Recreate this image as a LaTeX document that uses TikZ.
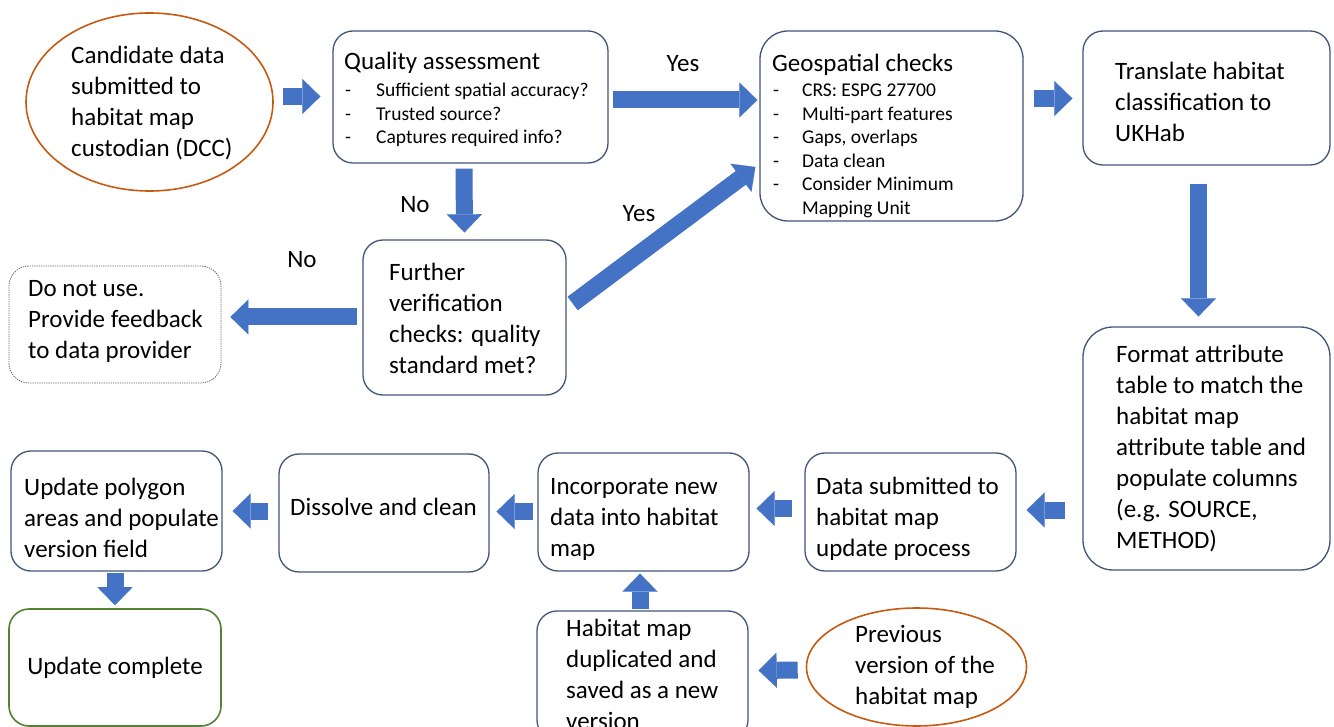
\documentclass[tikz,border=0pt]{standalone}
\usepackage{fontspec}
\setmainfont{Carlito}
\usetikzlibrary{arrows.meta,calc,shapes.geometric}
\definecolor{bord}{RGB}{65,85,120}
\definecolor{arrowblue}{RGB}{68,114,196}
\definecolor{brownc}{RGB}{197,90,17}
\definecolor{greenc}{RGB}{84,130,53}
\begin{document}
\begin{tikzpicture}[x=1pt,y=-1pt,
  box/.style={draw=bord, line width=1.3pt, rounded corners=20pt, inner sep=0pt},
  oval/.style={ellipse, draw=brownc, line width=1.6pt, inner sep=0pt},
  txt/.style={font=\fontsize{25}{31}\selectfont, align=left, inner sep=0pt, anchor=west},
  small/.style={font=\fontsize{19.5}{23.5}\selectfont, align=left, inner sep=0pt, anchor=west},
  lbl/.style={font=\fontsize{25}{31}\selectfont, inner sep=0pt},
  barrow/.style={draw=arrowblue, line width=17pt, -{Triangle[width=35pt,length=18pt,line width=0.01pt]}}
]
\useasboundingbox (0,0) rectangle (1334,727);
\fill[white] (0,0) rectangle (1334,727);

% top row
\node[oval, minimum width=247pt, minimum height=178pt] (cand) at (149.5,102) {};
\node[txt] (candt) at (71,103) {Candidate data\\submitted to\\habitat map\\custodian (DCC)};

\node[box, minimum width=275pt, minimum height=132pt] (qa) at (470.5,97) {};
\node[txt, anchor=base west] (qah) at (344,70) {Quality assessment};
\node[small] (qal) at (345,115) {\makebox[31pt][l]{-}Sufficient spatial accuracy?\\ \makebox[31pt][l]{-}Trusted source?\\ \makebox[31pt][l]{-}Captures required info?};

\node[box, rounded corners=28pt, minimum width=263pt, minimum height=190pt] (geo) at (891.5,126) {};
\node[txt, anchor=base west] (geoh) at (772,72) {Geospatial checks};
\node[small] (geol) at (773,151) {\makebox[29pt][l]{-}CRS: ESPG 27700\\ \makebox[29pt][l]{-}Multi-part features\\ \makebox[29pt][l]{-}Gaps, overlaps\\ \makebox[29pt][l]{-}Data clean\\ \makebox[29pt][l]{-}Consider Minimum\\ \makebox[29pt][l]{}Mapping Unit};

\node[box, minimum width=247pt, minimum height=134pt] (tr) at (1206.5,98) {};
\node[txt] (trt) at (1115,102) {Translate habitat\\classification to\\UKHab};

% right column
\node[box, rounded corners=30pt, minimum width=247pt, minimum height=243pt] (fmt) at (1206.5,448.5) {};
\node[txt] (fmtt) at (1116,448.5) {Format attribute\\table to match the\\habitat map\\attribute table and\\populate columns\\(e.g. SOURCE,\\METHOD)};

% middle row
\node[box, minimum width=203pt, minimum height=155pt] (fur) at (464.5,317.5) {};
\node[txt] (furt) at (389,318) {Further\\verification\\checks: quality\\standard met?};

\node[box, draw=black!60, densely dotted, line width=0.8pt, minimum width=212pt, minimum height=117pt] (dnu) at (115,324.5) {};
\node[txt] (dnut) at (28,321) {Do not use.\\Provide feedback\\to data provider};

% bottom row
\node[box, minimum width=211pt, minimum height=118pt] (sub) at (910.5,512) {};
\node[txt] (subt) at (816,519) {Data submitted to\\habitat map\\update process};

\node[box, minimum width=211pt, minimum height=118pt] (inc) at (643.5,512) {};
\node[txt] (inct) at (550,519) {Incorporate new\\data into habitat\\map};

\node[box, minimum width=210pt, minimum height=118pt] (dis) at (384,513) {};
\node[txt] (dist) at (290,507) {Dissolve and clean};

\node[box, minimum width=211pt, minimum height=120pt] (upd) at (116.5,511) {};
\node[txt] (updt) at (24,518) {Update polygon\\areas and populate\\version field};

\node[box, draw=greenc, line width=1.6pt, minimum width=212pt, minimum height=117pt, font=\fontsize{25}{31}\selectfont] (done) at (115,667.5) {Update complete};

\node[box, minimum width=211pt, minimum height=129pt] (dup) at (642.5,675.5) {};
\node[txt] (dupt) at (566,674) {Habitat map\\duplicated and\\saved as a new\\version};

\node[oval, minimum width=220pt, minimum height=118pt] (prev) at (916.5,667) {};
\node[txt] (prevt) at (855,667) {Previous\\version of the\\habitat map};

% labels
\node[lbl] (yes1) at (683,64) {Yes};
\node[lbl] (no1) at (415,205) {No};
\node[lbl] (no2) at (302,260) {No};
\node[lbl] (yes2) at (639,214) {Yes};

% block arrows
\draw[barrow] ($(cand.east)+(9,-5.5)$) -- ($(qa.west)+(-12,-0.5)$);
\draw[barrow] ($(qa.east)+(4,3)$) -- ($(geo.west)+(-2,-26)$);
\draw[barrow] ($(geo.east)+(10,-27.5)$) -- ($(tr.west)+(-10,0.5)$);
\draw[barrow] ($(tr.south)+(-8,18)$) -- ($(fmt.north)+(-8,-10)$);
\draw[barrow] ($(fmt.west)+(-17,61.5)$) -- ($(sub.east)+(10,-2)$);
\draw[barrow] ($(sub.west)+(-12,-3.5)$) -- ($(inc.east)+(7,-3.5)$);
\draw[barrow] ($(inc.west)+(-4,-0.5)$) -- ($(dis.east)+(7,-1.5)$);
\draw[barrow] ($(dis.west)+(-10,-2)$) -- ($(upd.east)+(10,0)$);
\draw[barrow] ($(upd.south)+(-1.5,1)$) -- ($(done.north)+(0,-3)$);
\draw[barrow] ($(dup.north)+(-2.5,-1)$) -- ($(inc.south)+(-3.5,2)$);
\draw[barrow] ($(prev.west)+(-8,3)$) -- ($(dup.east)+(10,-5)$);
\draw[barrow] ($(qa.south)+(-6.5,5)$) -- ($(fur.north)+(0,-7)$);
\draw[barrow] ($(fur.west)+(-5,-0.5)$) -- ($(dnu.east)+(9,-7.5)$);
\draw[barrow] ($(fur.east)+(6,-14)$) -- ($(geo.west)+(-4,41)$);
\end{tikzpicture}
\end{document}
